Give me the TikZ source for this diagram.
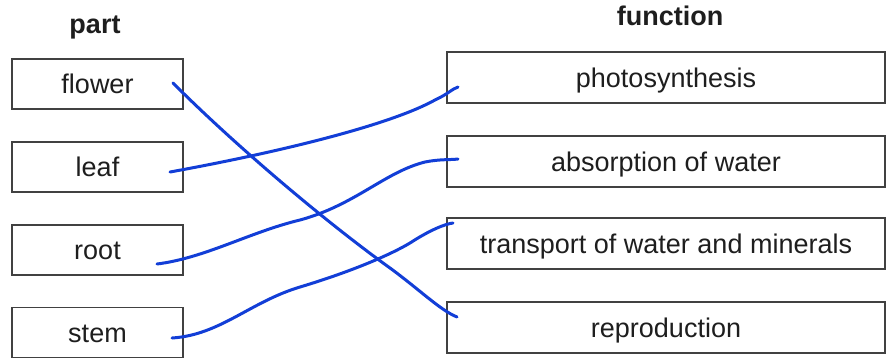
\documentclass[tikz,border=0pt]{standalone}
\usepackage{fontspec}
\setmainfont{Liberation Sans}
\definecolor{ink}{RGB}{30,30,30}
\definecolor{boxline}{RGB}{65,65,65}
\definecolor{pen}{RGB}{18,62,215}
\begin{document}
\begin{tikzpicture}[x=1pt,y=-1pt,
  partbox/.style={draw=boxline,line width=1.4pt,minimum width=171pt,minimum height=50pt,inner sep=0pt,
    text=ink,font=\fontsize{27}{32}\selectfont,text height=19pt,text depth=0pt},
  funcbox/.style={partbox,minimum width=438pt,minimum height=51pt},
  head/.style={anchor=base,text=ink,font=\fontsize{27}{32}\selectfont\bfseries,inner sep=0pt},
  pencil/.style={draw=pen,line width=3pt,line cap=round,line join=round}]
\useasboundingbox (0,0) rectangle (886,360);
\fill[white] (0,0) rectangle (886,360);
% headers
\node[head] (hpart) at (95,33) {part};
\node[head] (hfunc) at (670,25) {function};
% left boxes
\node[partbox] (flower) at (97.5,84) {flower};
\node[partbox] (leaf) at (97.5,167) {leaf};
\node[partbox] (root) at (97.5,250) {root};
\node[partbox] (stem) at (97.5,332.5) {stem};
% right boxes
\node[funcbox] (photo) at (666,77.5) {photosynthesis};
\node[funcbox] (absorb) at (666,161.5) {absorption of water};
\node[funcbox] (transport) at (666,243.5) {transport of water and minerals};
\node[funcbox] (repro) at (666,327.5) {reproduction};
% pen ends
\coordinate (cf) at (173,83);
\coordinate (cl) at (170,172);
\coordinate (cr) at (157,264);
\coordinate (cs) at (172,338);
\coordinate (cp) at (458,87);
\coordinate (ca) at (458,159);
\coordinate (ct) at (453,223);
\coordinate (cq) at (457,317);
% hand-drawn lines
\draw[pencil] (cf) .. controls (240,150) and (330,225) .. (390,268) .. controls (420,290) and (440,310) .. (cq);
\draw[pencil] (cl) .. controls (280,152) and (390,125) .. (435,100) .. controls (448,94) and (452,89) .. (cp);
\draw[pencil] (cr) .. controls (205,258) and (250,232) .. (300,220) .. controls (355,205) and (385,172) .. (425,162) .. controls (440,159) and (450,160) .. (ca);
\draw[pencil] (cs) .. controls (220,335) and (250,302) .. (300,287) .. controls (350,272) and (390,255) .. (410,243) .. controls (430,230) and (445,224) .. (ct);
\end{tikzpicture}
\end{document}
